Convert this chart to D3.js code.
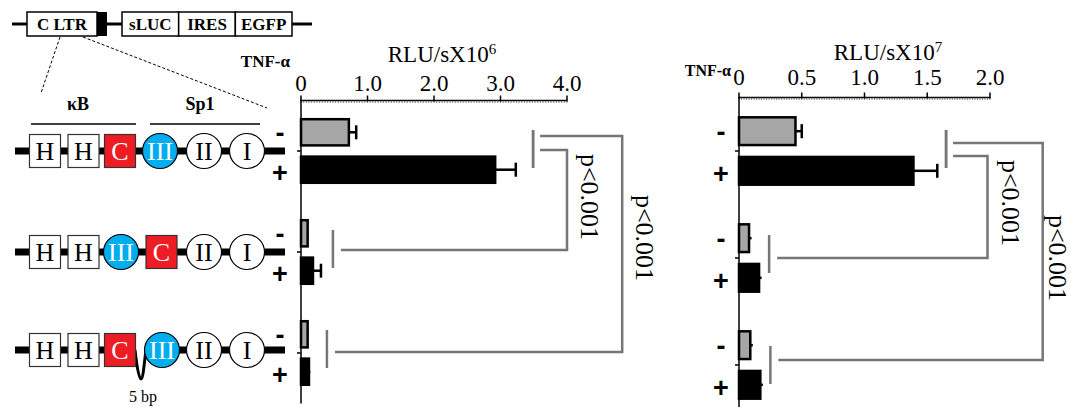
<!DOCTYPE html>
<html><head><meta charset="utf-8">
<script src="https://cdn.jsdelivr.net/npm/d3@7"></script>
<style>body{margin:0;background:#fff}svg{display:block}</style>
</head><body>
<script>
// ---------- data ----------
const groups = ["HHC-III-II-I", "HH-III-C-II-I", "HHC-5bp-III-II-I"];
const treatments = ["-", "+"];
const leftValues  = [[0.72, 2.92], [0.10, 0.18], [0.10, 0.12]];
const leftErrors  = [[0.11, 0.31], [0.01, 0.12], [0.01, 0.02]];
const rightValues = [[0.45, 1.39], [0.08, 0.16], [0.09, 0.17]];
const rightErrors = [[0.05, 0.19], [0.02, 0.02], [0.02, 0.02]];
const leftTicks = [0, 1, 2, 3, 4];
const leftTickLabels = ["0", "1.0", "2.0", "3.0", "4.0"];
const rightTicks = [0, 0.5, 1, 1.5, 2];
const rightTickLabels = ["0", "0.5", "1.0", "1.5", "2.0"];
const leftExponent = "6", rightExponent = "7";
const pLabel = "p<0.001";
const constructs = [
  ["H", "H", "C", "III", "II", "I"],
  ["H", "H", "III", "C", "II", "I"],
  ["H", "H", "C", "III", "II", "I"]
];
const vectorParts = ["sLUC", "IRES", "EGFP"];

const W = 1071, H = 407;
const svg = d3.select("body").append("svg").attr("width", W).attr("height", H);
const serif = "'Liberation Serif','Times New Roman',serif";
const sans = "'Liberation Sans',Arial,sans-serif";
const bracketColor = "#767676";
const greyFill = "#a6a6a6";

function drawChart(cfg) {
  const x = d3.scaleLinear().domain([0, cfg.max]).range([cfg.x0, cfg.x1]);
  const yG = d3.scaleBand().domain(groups).range([cfg.yTop, cfg.yTop + cfg.groupH * 3]);
  const yT = d3.scaleBand().domain(treatments).range([0, cfg.groupH]).paddingInner(0.3).paddingOuter(0.5);
  const g = svg.append("g");

  // x axis line + ticks
  g.append("line").attr("x1", x(0)).attr("x2", x(cfg.max)).attr("y1", cfg.yTop).attr("y2", cfg.yTop)
    .attr("stroke", "#000").attr("stroke-width", 1.5);
  const minor = d3.range(0, 101).map(i => i * cfg.max / 100);
  g.selectAll(".mn").data(minor).join("line")
    .attr("x1", d => x(d)).attr("x2", d => x(d)).attr("y1", cfg.yTop).attr("y2", cfg.yTop + 2.5)
    .attr("stroke", "#555").attr("stroke-width", 0.7);
  g.selectAll(".mj").data(cfg.ticks).join("line")
    .attr("x1", d => x(d)).attr("x2", d => x(d)).attr("y1", cfg.yTop - 5).attr("y2", cfg.yTop + 1)
    .attr("stroke", "#000").attr("stroke-width", 1.5);
  g.selectAll(".tl").data(cfg.ticks).join("text")
    .attr("x", d => x(d)).attr("y", cfg.labelY).attr("text-anchor", "middle")
    .attr("font-family", serif).attr("font-size", 23).text((d, i) => cfg.tickLabels[i]);
  const t = g.append("text").attr("x", cfg.titleX).attr("y", cfg.titleY).attr("text-anchor", "middle")
    .attr("font-family", serif).attr("font-size", 23);
  t.append("tspan").text("RLU/sX10");
  t.append("tspan").attr("font-size", 15).attr("dy", -8).text(cfg.exp);

  // y axis
  g.append("line").attr("x1", x(0)).attr("x2", x(0)).attr("y1", cfg.yTop - 1).attr("y2", cfg.yTop + cfg.groupH * 3)
    .attr("stroke", "#000").attr("stroke-width", 1.5);
  g.selectAll(".gt").data(groups).join("line")
    .attr("x1", x(0) - 4).attr("x2", x(0)).attr("y1", d => yG(d) + cfg.groupH / 2).attr("y2", d => yG(d) + cfg.groupH / 2)
    .attr("stroke", "#000").attr("stroke-width", 1.5);

  // TNF label
  g.append("text").attr("x", cfg.tnfX).attr("y", cfg.tnfY).attr("text-anchor", "end")
    .attr("font-family", serif).attr("font-weight", "bold").attr("font-size", cfg.tnfSize).text("TNF-α");

  const bars = [];
  groups.forEach((gr, gi) => treatments.forEach((tr, ti) => bars.push({
    g: gr, t: tr, v: cfg.values[gi][ti], e: cfg.errors[gi][ti]
  })));
  const by = d => yG(d.g) + yT(d.t);
  const bw = yT.bandwidth();

  // error bars
  g.selectAll(".eb").data(bars).join("line")
    .attr("x1", d => x(d.v)).attr("x2", d => x(d.v + d.e))
    .attr("y1", d => by(d) + bw / 2).attr("y2", d => by(d) + bw / 2)
    .attr("stroke", "#000").attr("stroke-width", 2.5);
  g.selectAll(".ec").data(bars.filter(d => d.e > 0.04)).join("line")
    .attr("x1", d => x(d.v + d.e)).attr("x2", d => x(d.v + d.e))
    .attr("y1", d => by(d) + bw / 2 - 7).attr("y2", d => by(d) + bw / 2 + 7)
    .attr("stroke", "#000").attr("stroke-width", 2.5);
  // bars
  g.selectAll(".bar").data(bars).join("rect")
    .attr("x", x(0)).attr("y", d => by(d)).attr("width", d => x(d.v) - x(0)).attr("height", bw)
    .attr("fill", d => d.t === "-" ? greyFill : "#000")
    .attr("stroke", "#000").attr("stroke-width", 2.5);

  // +/- labels
  g.selectAll(".pm").data(bars).join("text")
    .attr("x", x(0) - cfg.pmOff).attr("y", d => by(d) + bw / 2 + (d.t === "-" ? 1 : 3))
    .attr("text-anchor", "middle").attr("dominant-baseline", "central")
    .attr("font-family", sans).attr("font-weight", "bold").attr("font-size", 27)
    .text(d => d.t);

  // significance brackets
  const gc = gi => yG(groups[gi]) + cfg.groupH / 2;
  const br = g.append("g").attr("stroke", bracketColor).attr("stroke-width", 2.5).attr("fill", "none");
  cfg.brackets.forEach(b => {
    [[0, b.v0], [b.target, b.vt]].forEach(([gi, v]) => {
      br.append("line").attr("x1", x(v)).attr("x2", x(v))
        .attr("y1", gc(gi) + b.dy[gi === 0 ? 0 : 1] - 19).attr("y2", gc(gi) + b.dy[gi === 0 ? 0 : 1] + 19);
    });
    const yA = gc(0) + b.yOff, yB = gc(b.target) + b.dyH;
    br.append("path").attr("d",
      `M${x(b.v0) + 7},${yA} H${x(b.xr)} V${yB} H${x(b.vt) + 8}`);
    g.append("text").attr("transform", `translate(${x(b.xr) + b.textDx},${b.textY}) rotate(90)`)
      .attr("text-anchor", "middle").attr("dominant-baseline", "central")
      .attr("font-family", serif).attr("font-size", 26).text(pLabel);
  });
}

drawChart({
  max: 4, x0: 301, x1: 567, yTop: 100.5, groupH: 101,
  ticks: leftTicks, tickLabels: leftTickLabels, labelY: 91, titleX: 442, titleY: 62, exp: leftExponent,
  values: leftValues, errors: leftErrors, tnfX: 290, tnfY: 67, tnfSize: 17, pmOff: 21,
  brackets: [
    { target: 1, v0: 3.49, vt: 0.48, xr: 4.0, yOff: -1, dy: [-2, -3], dyH: -2, textDx: 22, textY: 197 },
    { target: 2, v0: 3.49, vt: 0.39, xr: 4.83, yOff: -15, dy: [-2, -4], dyH: -1, textDx: 22, textY: 238 }
  ]
});
drawChart({
  max: 2, x0: 739, x1: 990, yTop: 97.5, groupH: 107,
  ticks: rightTicks, tickLabels: rightTickLabels, labelY: 85, titleX: 888, titleY: 60, exp: rightExponent,
  values: rightValues, errors: rightErrors, tnfX: 731, tnfY: 76, tnfSize: 16, pmOff: 18,
  brackets: [
    { target: 1, v0: 1.65, vt: 0.24, xr: 1.98, yOff: 5, dy: [-2, -4], dyH: 0, textDx: 23, textY: 203 },
    { target: 2, v0: 1.65, vt: 0.25, xr: 2.42, yOff: -8, dy: [-2, 0], dyH: -5, textDx: 15, textY: 258 }
  ]
});

// ---------- construct diagram ----------
const cg = svg.append("g");
cg.append("line").attr("x1", 12).attr("x2", 312).attr("y1", 24).attr("y2", 24).attr("stroke", "#000").attr("stroke-width", 3);
cg.append("rect").attr("x", 27).attr("y", 12).attr("width", 70).attr("height", 24).attr("fill", "#fff").attr("stroke", "#000").attr("stroke-width", 1.5);
cg.append("rect").attr("x", 97).attr("y", 12).attr("width", 10).attr("height", 24).attr("fill", "#000");
cg.append("text").attr("x", 62).attr("y", 30).attr("text-anchor", "middle").attr("font-family", serif).attr("font-weight", "bold").attr("font-size", 17).text("C LTR");
const vx = d3.scaleBand().domain(vectorParts).range([122, 292]);
vectorParts.forEach(p => {
  cg.append("rect").attr("x", vx(p)).attr("y", 12).attr("width", vx.bandwidth()).attr("height", 24).attr("fill", "#fff").attr("stroke", "#000").attr("stroke-width", 1.5);
  cg.append("text").attr("x", vx(p) + vx.bandwidth() / 2).attr("y", 30).attr("text-anchor", "middle").attr("font-family", serif).attr("font-weight", "bold").attr("font-size", 17).text(p);
});
cg.append("line").attr("x1", 60).attr("y1", 37).attr("x2", 41).attr("y2", 93).attr("stroke", "#000").attr("stroke-width", 1).attr("stroke-dasharray", "3,2");
cg.append("line").attr("x1", 83).attr("y1", 37).attr("x2", 267).attr("y2", 108).attr("stroke", "#000").attr("stroke-width", 1).attr("stroke-dasharray", "3,2");
cg.append("text").attr("x", 78).attr("y", 110).attr("text-anchor", "middle").attr("font-family", serif).attr("font-weight", "bold").attr("font-size", 18).text("κB");
cg.append("text").attr("x", 200).attr("y", 110).attr("text-anchor", "middle").attr("font-family", serif).attr("font-weight", "bold").attr("font-size", 18).text("Sp1");
cg.append("line").attr("x1", 31).attr("x2", 136).attr("y1", 124).attr("y2", 124).attr("stroke", "#000").attr("stroke-width", 1.5);
cg.append("line").attr("x1", 150).attr("x2", 260).attr("y1", 124).attr("y2", 124).attr("stroke", "#000").attr("stroke-width", 1.5);

const rowY = [151, 252, 350];
const elemX = [
  [45, 83.5, 120, 160, 204, 247],
  [45, 83.5, 121, 161.5, 204, 247],
  [45, 83.5, 120, 162, 204, 247]
];
constructs.forEach((row, ri) => {
  const cy = rowY[ri];
  if (ri === 2) {
    cg.append("line").attr("x1", 15).attr("x2", 136).attr("y1", cy).attr("y2", cy).attr("stroke", "#000").attr("stroke-width", 7);
    cg.append("line").attr("x1", 146).attr("x2", 285).attr("y1", cy).attr("y2", cy).attr("stroke", "#000").attr("stroke-width", 7);
    cg.append("path").attr("d", `M135,${cy} C137,${cy + 18} 139,${cy + 29} 141,${cy + 29} C143,${cy + 29} 144,${cy + 15} 146,${cy}`)
      .attr("fill", "none").attr("stroke", "#000").attr("stroke-width", 3);
    cg.append("text").attr("x", 143).attr("y", 402).attr("text-anchor", "middle").attr("font-family", serif).attr("font-size", 16).text("5 bp");
  } else {
    cg.append("line").attr("x1", 15).attr("x2", 285).attr("y1", cy).attr("y2", cy).attr("stroke", "#000").attr("stroke-width", 7);
  }
  row.forEach((el, ei) => {
    const cx = elemX[ri][ei];
    const isBox = el === "H" || el === "C";
    const fill = el === "C" ? "#ee1c24" : el === "III" ? "#00aeef" : "#fff";
    const tc = (el === "C" || el === "III") ? "#fff" : "#000";
    if (isBox) {
      cg.append("rect").attr("x", cx - 15.5).attr("y", cy - 16.5).attr("width", 31).attr("height", 33)
        .attr("fill", fill).attr("stroke", "#333").attr("stroke-width", 1.2);
    } else {
      cg.append("circle").attr("cx", cx).attr("cy", cy).attr("r", 17.5)
        .attr("fill", fill).attr("stroke", "#000").attr("stroke-width", 1.2);
    }
    cg.append("text").attr("x", cx).attr("y", cy + 9).attr("text-anchor", "middle")
      .attr("font-family", serif).attr("font-size", 26).attr("fill", tc).text(el);
  });
});
</script>
</body></html>
